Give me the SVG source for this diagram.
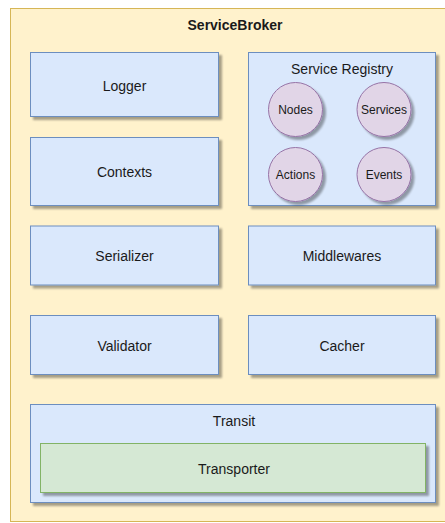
<svg xmlns="http://www.w3.org/2000/svg" width="445" height="523" viewBox="0 0 445 523">
  <defs>
    <filter id="shadow" x="-10%" y="-10%" width="125%" height="125%">
      <feGaussianBlur in="SourceAlpha" stdDeviation="0.8"/>
      <feOffset dx="2.5" dy="2.5" result="off"/>
      <feComponentTransfer><feFuncA type="linear" slope="0.35"/></feComponentTransfer>
      <feMerge><feMergeNode/><feMergeNode in="SourceGraphic"/></feMerge>
    </filter>
  </defs>
  <style>
    text { font-family: "Liberation Sans", Arial, Helvetica, sans-serif; fill: #1a1a1a; text-anchor: middle; dominant-baseline: central; }
    .broker { fill: #fff2cc; stroke: #d6b656; stroke-width: 1; }
    .box { fill: #dae8fc; stroke: #6c8ebf; stroke-width: 1; filter: url(#shadow); }
    .green { fill: #d5e8d4; stroke: #82b366; stroke-width: 1; filter: url(#shadow); }
    .circ { fill: #e1d5e7; stroke: #9673a6; stroke-width: 1; filter: url(#shadow); }
    .lbl { font-size: 14px; }
    .small { font-size: 12px; }
    .title { font-size: 14px; font-weight: bold; }
  </style>

  <g id="service-broker">
    <rect class="broker" x="10.5" y="8.5" width="440" height="513"/>
    <text class="title" x="235" y="25">ServiceBroker</text>
  </g>

  <g id="logger">
    <rect class="box" x="30.5" y="52.5" width="188" height="64"/>
    <text class="lbl" x="124.5" y="86">Logger</text>
  </g>

  <g id="contexts">
    <rect class="box" x="30.5" y="137.5" width="188" height="68"/>
    <text class="lbl" x="124.5" y="172">Contexts</text>
  </g>

  <g id="service-registry">
    <rect class="box" x="248.5" y="52.5" width="187" height="153"/>
    <text class="lbl" x="342" y="69">Service Registry</text>
  </g>

  <g id="nodes">
    <circle class="circ" cx="295.5" cy="109.5" r="27"/>
    <text class="small" x="295.5" y="110">Nodes</text>
  </g>

  <g id="services">
    <circle class="circ" cx="384" cy="109.5" r="27"/>
    <text class="small" x="384" y="110">Services</text>
  </g>

  <g id="actions">
    <circle class="circ" cx="295.5" cy="174.5" r="27"/>
    <text class="small" x="295.5" y="175">Actions</text>
  </g>

  <g id="events">
    <circle class="circ" cx="384" cy="174.5" r="27"/>
    <text class="small" x="384" y="175">Events</text>
  </g>

  <g id="serializer">
    <rect class="box" x="30.5" y="226" width="188" height="59"/>
    <text class="lbl" x="124.5" y="256">Serializer</text>
  </g>

  <g id="middlewares">
    <rect class="box" x="248.5" y="226" width="187" height="59"/>
    <text class="lbl" x="342" y="256">Middlewares</text>
  </g>

  <g id="validator">
    <rect class="box" x="30.5" y="315.5" width="188" height="59"/>
    <text class="lbl" x="124.5" y="346">Validator</text>
  </g>

  <g id="cacher">
    <rect class="box" x="248.5" y="315.5" width="187" height="59"/>
    <text class="lbl" x="342" y="346">Cacher</text>
  </g>

  <g id="transit">
    <rect class="box" x="30.5" y="404.5" width="405" height="98"/>
    <text class="lbl" x="234" y="421">Transit</text>
  </g>

  <g id="transporter">
    <rect class="green" x="40.5" y="443.5" width="385" height="49"/>
    <text class="lbl" x="234" y="469">Transporter</text>
  </g>

  <g id="connectors"></g>
</svg>
